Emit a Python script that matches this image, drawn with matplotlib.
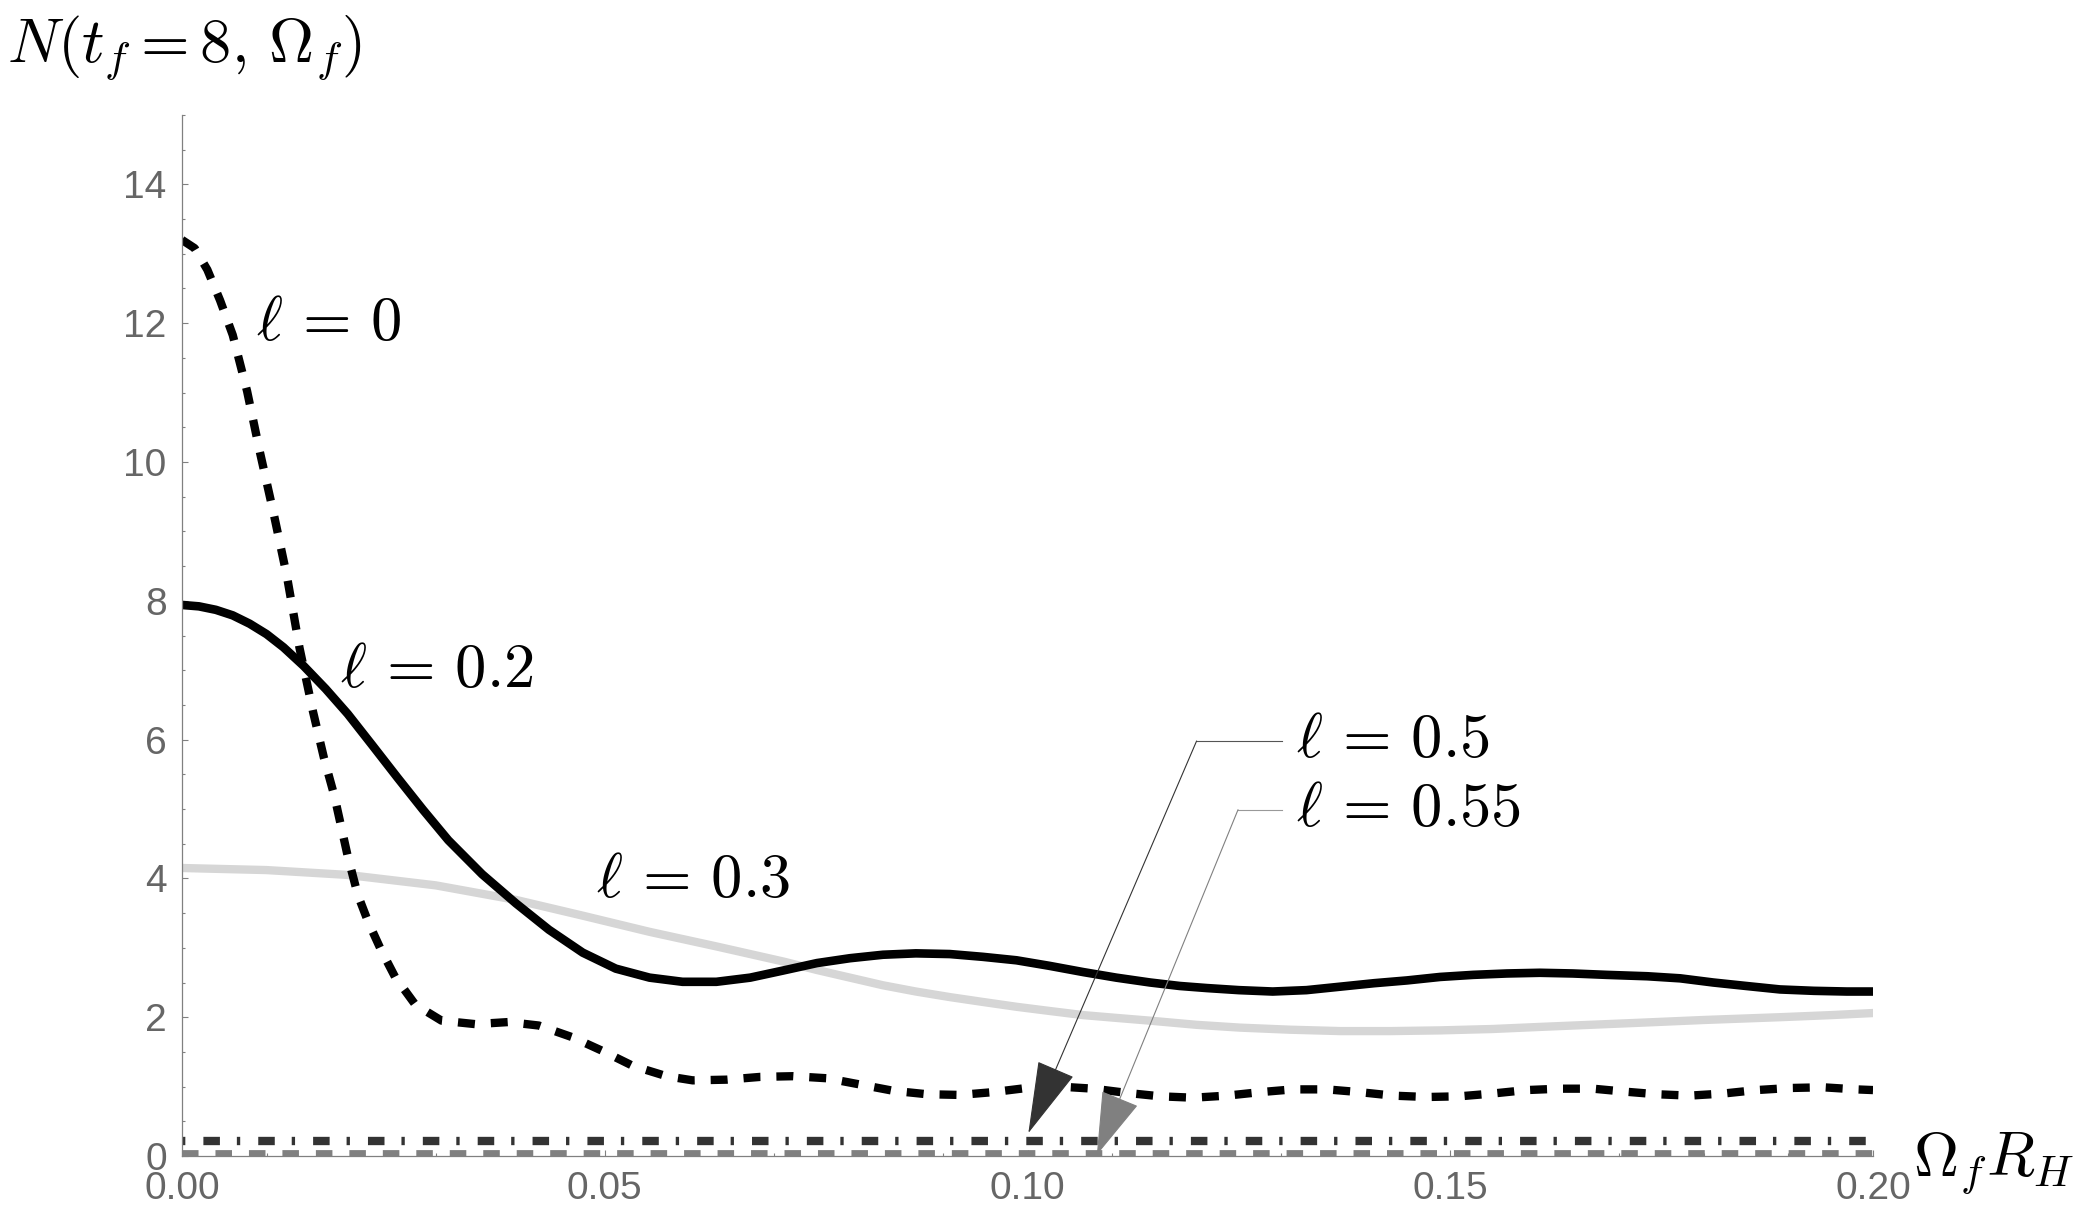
import matplotlib
matplotlib.use('Agg')
import matplotlib.pyplot as plt
import numpy as np

omega_l0 = [0, .0015, .003, .0045, .006, .0077, .0092, .0108, .0124, .0139,
            .0155, .0168, .018, .0196, .0208, .022, .0235, .0252, .0276, .0307,
            .0347, .0386, .0422, .0462, .0498, .0533, .0573, .0604, .0644, .0684,
            .0723, .0763, .0802, .0841, .0881, .092, .0959, .0999, .1038, .1078,
            .1117, .1157, .1196, .1236, .1275, .1314, .1354, .1393, .1432, .1472,
            .1511, .155, .159, .163, .1669, .1704, .1744, .1783, .1823, .1862,
            .1902, .1941, .198, .2]
n_l0 = [13.2, 13.08, 12.77, 12.33, 11.83, 11.02, 10.15, 9.28, 8.36, 7.32,
        6.4, 5.73, 5.2, 4.32, 3.76, 3.38, 2.98, 2.58, 2.18, 1.95,
        1.90, 1.93, 1.88, 1.71, 1.51, 1.30, 1.15, 1.09, 1.10, 1.14,
        1.15, 1.12, 1.03, 0.94, 0.89, 0.88, 0.92, 0.98, 1.0, 0.97,
        0.91, 0.86, 0.84, 0.87, 0.92, 0.96, 0.96, 0.92, 0.87, 0.85,
        0.86, 0.90, 0.95, 0.97, 0.97, 0.93, 0.89, 0.87, 0.90, 0.95,
        0.98, 0.99, 0.96, 0.95]

omega_l02 = [0, .002, .004, .006, .008, .010, .012, .0144, .017, .0196,
             .0225, .0255, .0285, .0315, .0355, .0395, .0434, .0474, .0513, .0553,
             .0592, .0632, .0672, .071, .0751, .079, .0829, .0868, .0908, .0947,
             .0987, .1026, .1066, .1105, .1145, .118, .1212, .125, .129, .133,
             .137, .141, .1449, .1488, .1527, .1567, .1606, .1645, .1685, .1733,
             .1772, .1811, .185, .189, .193, .1969, .2]
n_l02 = [7.94, 7.92, 7.87, 7.79, 7.67, 7.52, 7.33, 7.06, 6.73, 6.37,
         5.92, 5.45, 4.99, 4.55, 4.06, 3.64, 3.26, 2.93, 2.70, 2.57,
         2.51, 2.51, 2.57, 2.67, 2.78, 2.85, 2.90, 2.92, 2.91, 2.87,
         2.82, 2.74, 2.65, 2.57, 2.50, 2.45, 2.42, 2.39, 2.37, 2.39,
         2.44, 2.49, 2.53, 2.58, 2.61, 2.63, 2.64, 2.63, 2.61, 2.59,
         2.56, 2.50, 2.45, 2.40, 2.38, 2.37, 2.37]

omega_l03 = [0, .01, .0196, .03, .0395, .0475, .0553, .0632, .0672, .0712,
             .0751, .079, .0829, .0868, .0908, .0947, .0987, .1026, .1066, .1105,
             .1145, .12, .1251, .131, .137, .143, .1488, .155, .1606, .1665,
             .1724, .18, .189, .195, .2]
n_l03 = [4.15, 4.12, 4.05, 3.90, 3.69, 3.46, 3.23, 3.02, 2.91, 2.80,
         2.68, 2.57, 2.46, 2.37, 2.29, 2.22, 2.15, 2.09, 2.03, 1.99,
         1.95, 1.89, 1.85, 1.82, 1.80, 1.80, 1.81, 1.83, 1.86, 1.89,
         1.92, 1.96, 2.0, 2.03, 2.06]

omega_flat = [0, 0.2]
n_l05 = [0.22, 0.22]
n_l055 = [0.03, 0.03]

plt.rcParams['mathtext.fontset'] = 'cm'
plt.rcParams['lines.scale_dashes'] = False

W, H = 2083, 1221
fig = plt.figure(figsize=(W / 100, H / 100), dpi=100)
ax = fig.add_axes([182 / W, 1 - 1156 / H, (1873 - 182) / W, (1156 - 115) / H])

ax.plot(omega_flat, n_l055, color='#808080', lw=5.6, dashes=(11.9, 12.2))
ax.plot(omega_flat, n_l05, color='#333333', lw=6.0, dashes=(2.4, 13, 11.9, 12.2))
ax.plot(omega_l03, n_l03, color='#d6d6d6', lw=6.0)
ax.plot(omega_l02, n_l02, color='black', lw=6.2)
ax.plot(omega_l0, n_l0, color='black', lw=6.0, dashes=(12.2, 11.5))

ax.set_xlim(0, 0.2)
ax.set_ylim(0, 15)
ax.set_xticks([0, 0.05, 0.10, 0.15, 0.20])
ax.set_xticklabels(['0.00', '0.05', '0.10', '0.15', '0.20'])
ax.set_xticks(np.arange(0, 0.2001, 0.01), minor=True)
ax.set_yticks(np.arange(0, 15, 2))
ax.set_yticks(np.arange(0, 15.01, 0.5), minor=True)

for s in ['top', 'right']:
    ax.spines[s].set_visible(False)
for s in ['left', 'bottom']:
    ax.spines[s].set_color('#808080')
    ax.spines[s].set_linewidth(0.9)

ax.tick_params(which='both', direction='in', color='#808080', width=0.8,
               labelcolor='#666666', labelsize=28, pad=11)
ax.tick_params(which='major', length=4)
ax.tick_params(which='minor', length=2.3)
for lab in ax.get_xticklabels() + ax.get_yticklabels():
    lab.set_fontfamily('Liberation Sans')

# curve labels
fs = 45
ax.text(0.00875, 11.76, r'$\ell\,=\,0$', fontsize=fs, va='baseline')
ax.text(0.0187, 6.76, r'$\ell\,=\,0.2$', fontsize=fs, va='baseline')
ax.text(0.049, 3.73, r'$\ell\,=\,0.3$', fontsize=fs, va='baseline')
ax.text(0.1318, 5.75, r'$\ell\,=\,0.5$', fontsize=fs, va='baseline')
ax.text(0.1318, 4.755, r'$\ell\,=\,0.55$', fontsize=fs, va='baseline')

# callouts
ax.plot([0.1200, 0.1301], [5.98, 5.98], color='#555555', lw=0.8, clip_on=False)
ax.annotate('', xy=(0.1001, 0.33), xytext=(0.1200, 5.98),
            arrowprops=dict(arrowstyle='-|>,head_length=4.8,head_width=1.3',
                            mutation_scale=10, color='#333333', lw=0.8,
                            shrinkA=0, shrinkB=0))
ax.plot([0.1249, 0.1301], [4.99, 4.99], color='#999999', lw=0.8, clip_on=False)
ax.annotate('', xy=(0.1082, 0.015), xytext=(0.1249, 4.99),
            arrowprops=dict(arrowstyle='-|>,head_length=4.2,head_width=1.3',
                            mutation_scale=10, color='#808080', lw=0.8,
                            shrinkA=0, shrinkB=0))

fig.text(7 / W, 1 - 61 / H, r'$N(t_f=8,\,\Omega_f)$', fontsize=fs, va='baseline')
fig.text(1913 / W, 1 - 1175 / H, r'$\Omega_f R_H$', fontsize=fs, va='baseline')

fig.savefig('out.png', dpi=100)
